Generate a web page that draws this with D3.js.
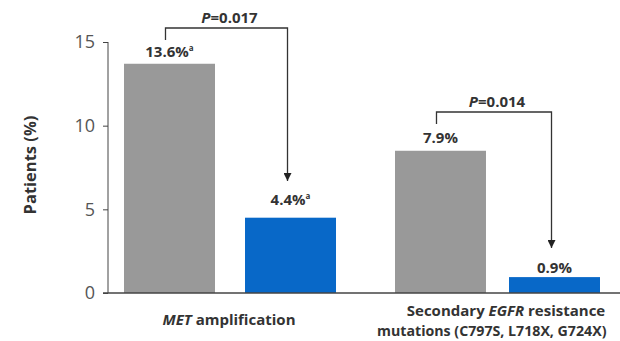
<!DOCTYPE html>
<html><head><meta charset="utf-8">
<script src="https://cdn.jsdelivr.net/npm/d3@7"></script>
<style>body{margin:0;background:#fff}svg{display:block}text{font-family:"Open Sans","Noto Sans",sans-serif}</style>
</head><body><svg id="c" width="620" height="341"></svg>
<script>
const groups = ["MET amplification", "Secondary EGFR resistance"];
const seriesNames = ["Comparator", "Treatment"];
const barValues = [[13.7, 4.5], [8.5, 0.95]];
const barLabels = [["13.6%", "4.4%"], ["7.9%", "0.9%"]];
const barSup = [["a", "a"], ["", ""]];
const pValues = ["0.017", "0.014"];
const yTicks = [0, 5, 10, 15];
const colors = ["#999999", "#0868c8"];

const svg = d3.select("#c");
const y = d3.scaleLinear().domain([0, 15]).range([293, 42]);
const x0 = d3.scaleBand().domain(groups).range([124, 605]).paddingInner(0.2316).paddingOuter(0);
const x1 = d3.scaleBand().domain(seriesNames).range([0, x0.bandwidth()]).paddingInner(0.229).paddingOuter(0);
const shift = [[0, 3], [-1, -5]];
const bx = (gi, si) => x0(groups[gi]) + x1(seriesNames[si]) + shift[gi][si];

// y axis
const ax = svg.append("g").attr("transform", "translate(108,0)")
  .call(d3.axisLeft(y).tickValues(yTicks).tickSize(5).tickPadding(8));
ax.select(".domain").attr("stroke", "#444").attr("d", "M0,42V293");
ax.selectAll(".tick line").attr("stroke", "#444");
ax.selectAll(".tick text").attr("fill", "#555").style("font-size", "18px").attr("font-family", "Open Sans, sans-serif");

svg.append("text").attr("transform", "translate(36,165) rotate(-90)")
  .attr("text-anchor", "middle").style("font-size", "16.5px").style("font-weight", "bold")
  .attr("fill", "#333").text("Patients (%)");

// bars
const g = svg.append("g");
groups.forEach((grp, gi) => {
  seriesNames.forEach((s, si) => {
    g.append("rect").attr("x", bx(gi, si)).attr("y", y(barValues[gi][si]))
      .attr("width", x1.bandwidth()).attr("height", y(0) - y(barValues[gi][si]))
      .attr("fill", colors[si]);
  });
});

// baseline
svg.append("line").attr("x1", 103).attr("x2", 620).attr("y1", y(0)).attr("y2", y(0))
  .attr("stroke", "#444").attr("stroke-width", 1.3);

// labels
const labelY = [[57, 205], [143, 273]];
groups.forEach((grp, gi) => {
  seriesNames.forEach((s, si) => {
    const cx = bx(gi, si) + x1.bandwidth() / 2;
    const t = svg.append("text").attr("x", cx).attr("y", labelY[gi][si])
      .attr("text-anchor", "middle").style("font-size", "15px").style("font-weight", "bold").attr("fill", "#333");
    t.append("tspan").text(barLabels[gi][si]);
    if (barSup[gi][si]) t.append("tspan").attr("dy", -6).style("font-size", "8px").text(barSup[gi][si]);
  });
});

// brackets
svg.append("defs").append("marker").attr("id", "arr").attr("viewBox", "0 0 10 10")
  .attr("refX", 10).attr("refY", 5).attr("markerWidth", 8).attr("markerHeight", 8)
  .attr("markerUnits", "userSpaceOnUse").attr("orient", "auto")
  .append("path").attr("d", "M0,0L10,5L0,10z").attr("fill", "#222");

const br = [{top: 28, l0: 40, tip: 181}, {top: 112, l0: 124, tip: 248}];
groups.forEach((grp, gi) => {
  const xl = bx(gi, 0) + x1.bandwidth() / 2 - 4;
  const xr = bx(gi, 1) + x1.bandwidth() / 2 - 3;
  const b = br[gi];
  svg.append("path").attr("d", `M${xl},${b.l0}V${b.top}H${xr}V${b.tip}`)
    .attr("fill", "none").attr("stroke", "#333").attr("stroke-width", 1.3)
    .attr("marker-end", "url(#arr)");
  const t = svg.append("text").attr("x", (xl + xr) / 2 + 3).attr("y", b.top - 5)
    .attr("text-anchor", "middle").style("font-size", "15px").style("font-weight", "bold").attr("fill", "#333");
  t.append("tspan").style("font-style", "italic").text("P");
  t.append("tspan").text("=" + pValues[gi]);
});

// x labels
const xl1 = svg.append("text").attr("x", 229).attr("y", 325)
  .attr("text-anchor", "middle").style("font-size", "15px").style("font-weight", "bold").attr("fill", "#333");
xl1.append("tspan").style("font-style", "italic").text("MET");
xl1.append("tspan").text(" amplification");

const xl2 = svg.append("text").attr("x", 506).attr("y", 316)
  .attr("text-anchor", "middle").style("font-size", "15px").style("font-weight", "bold").attr("fill", "#333");
xl2.append("tspan").text("Secondary ");
xl2.append("tspan").style("font-style", "italic").text("EGFR");
xl2.append("tspan").text(" resistance");
svg.append("text").attr("x", 377).attr("y", 336)
  .style("font-size", "14.2px").style("font-weight", "bold").attr("fill", "#333")
  .text("mutations (C797S, L718X, G724X)");
</script></body></html>
